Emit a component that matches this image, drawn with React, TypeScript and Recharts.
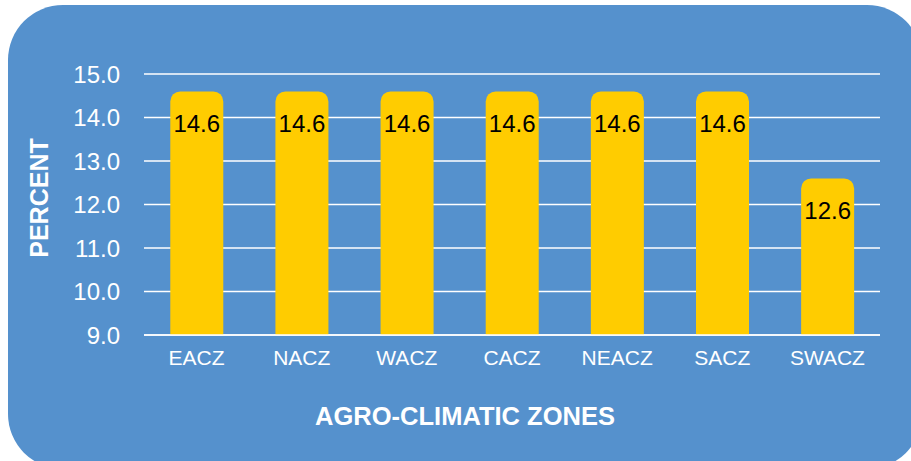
import { BarChart, Bar, XAxis, YAxis, CartesianGrid, LabelList, Label } from 'recharts';

const ZONES = ['EACZ', 'NACZ', 'WACZ', 'CACZ', 'NEACZ', 'SACZ', 'SWACZ'];
const PERCENT = [14.6, 14.6, 14.6, 14.6, 14.6, 14.6, 12.6];
const Y_TICKS = [9, 10, 11, 12, 13, 14, 15];

const FONT = '"Liberation Sans", Arial, sans-serif';
const BLUE = '#5591CD';
const YELLOW = '#FFCC00';

const data = ZONES.map((zone, i) => ({ zone, value: PERCENT[i] }));

function ValueLabel(props: any) {
  const { x, y, width, value } = props;
  return (
    <text
      x={x + width / 2}
      y={y + 41}
      textAnchor="middle"
      fontSize={24}
      fontFamily={FONT}
      fill="#000000"
    >
      {Number(value).toFixed(1)}
    </text>
  );
}

export default function App() {
  return (
    <div style={{ position: 'absolute', left: 0, top: 0, width: 911, height: 461, overflow: 'hidden', background: '#fff' }}>
      <div
        style={{
          position: 'absolute',
          left: 8,
          top: 5,
          width: 914,
          height: 464,
          borderRadius: 55,
          background: BLUE,
        }}
      />
      <div style={{ position: 'absolute', left: 0, top: 0 }}>
        <BarChart
          width={911}
          height={461}
          data={data}
          margin={{ top: 74, right: 31, bottom: 96, left: 0 }}
          barCategoryGap="25%"
        >
          <CartesianGrid horizontal vertical={false} stroke="#ffffff" strokeWidth={1.5} />
          <XAxis
            dataKey="zone"
            height={30}
            axisLine={{ stroke: '#ffffff', strokeWidth: 1.5 }}
            tickLine={false}
            tickMargin={9}
            tick={{ fill: '#ffffff', fontSize: 21, fontFamily: FONT }}
            interval={0}
          >
            <Label
              content={() => (
                <text
                  x={465}
                  y={425}
                  textAnchor="middle"
                  fontSize={25.5}
                  fontWeight="bold"
                  fontFamily={FONT}
                  fill="#ffffff"
                >
                  AGRO-CLIMATIC ZONES
                </text>
              )}
            />
          </XAxis>
          <YAxis
            width={144}
            domain={[9, 15]}
            ticks={Y_TICKS}
            allowDataOverflow
            axisLine={false}
            tickLine={false}
            tickMargin={18}
            tickFormatter={(v: number) => v.toFixed(1)}
            tick={{ fill: '#ffffff', fontSize: 24, fontFamily: FONT }}
          >
            <Label
              content={() => (
                <text
                  x={48}
                  y={198}
                  transform="rotate(-90 48 198)"
                  textAnchor="middle"
                  fontSize={25}
                  fontWeight="bold"
                  fontFamily={FONT}
                  fill="#ffffff"
                >
                  PERCENT
                </text>
              )}
            />
          </YAxis>
          <Bar dataKey="value" fill={YELLOW} radius={[10, 10, 0, 0]} isAnimationActive={false}>
            <LabelList dataKey="value" content={ValueLabel} />
          </Bar>
        </BarChart>
      </div>
    </div>
  );
}
